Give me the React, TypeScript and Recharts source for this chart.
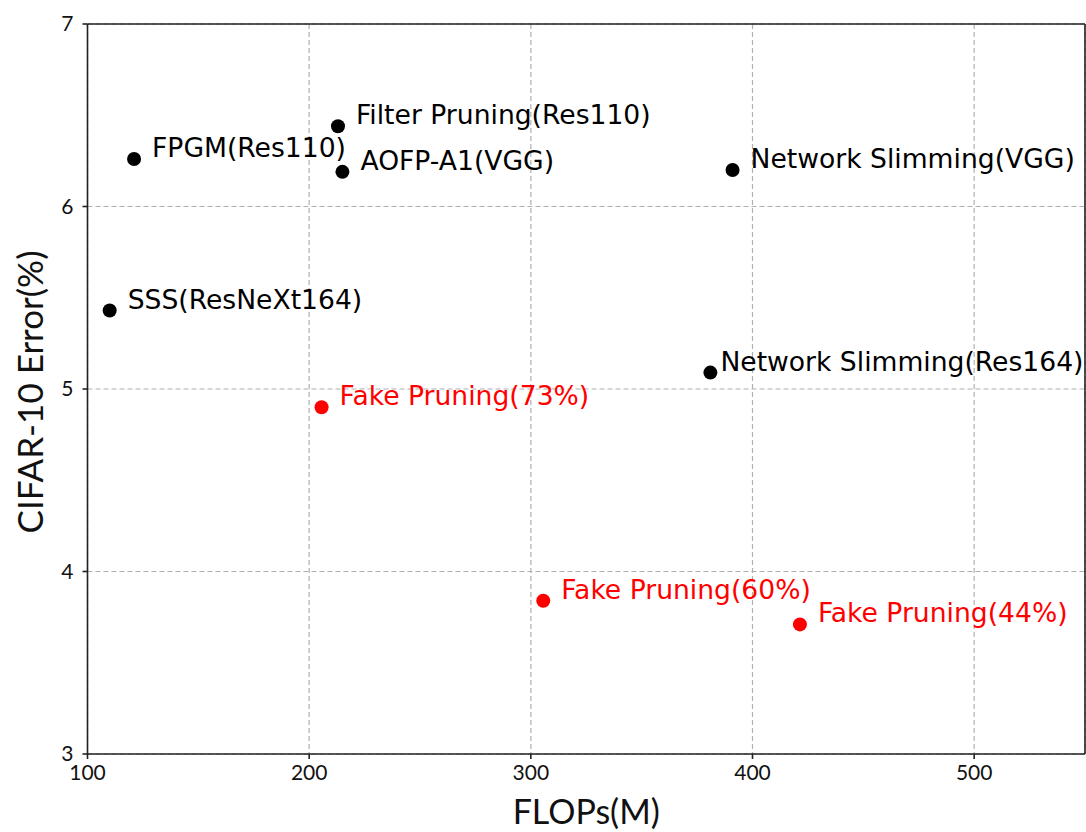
import React from 'react';
import {
  CartesianGrid,
  ReferenceLine,
  Scatter,
  ScatterChart,
  XAxis,
  YAxis,
} from 'recharts';

// published pruning methods (black)
const baselineNames = [
  'FPGM(Res110)',
  'Filter Pruning(Res110)',
  'AOFP-A1(VGG)',
  'Network Slimming(VGG)',
  'SSS(ResNeXt164)',
  'Network Slimming(Res164)',
];
const baselineFlops = [121, 213, 215, 391, 110, 381];
const baselineError = [6.26, 6.44, 6.19, 6.2, 5.43, 5.09];

// fake pruning results (red)
const fakeNames = ['Fake Pruning(73%)', 'Fake Pruning(60%)', 'Fake Pruning(44%)'];
const fakeFlops = [205.6, 305.6, 421.4];
const fakeError = [4.9, 3.84, 3.71];

const xTicks = [100, 200, 300, 400, 500];
const yTicks = [3, 4, 5, 6, 7];

const baseline = baselineNames.map((name, i) => ({
  name,
  flops: baselineFlops[i],
  err: baselineError[i],
}));
const fake = fakeNames.map((name, i) => ({
  name,
  flops: fakeFlops[i],
  err: fakeError[i],
}));

// this one label sits closer to its dot in the original
const labelDx: Record<string, number> = { 'Network Slimming(Res164)': 10 };

const tickFont = { fontFamily: 'Lato', fontSize: 21, fill: '#111' };

const dotWithLabel = (color: string) => (props: any) => {
  const { cx, cy, payload } = props;
  const dx = labelDx[payload.name] ?? 18;
  return (
    <g>
      <circle cx={cx} cy={cy} r={7} fill={color} />
      <text
        x={cx + dx}
        y={cy - 2}
        fill={color}
        fontFamily="DejaVu Sans"
        fontSize={26.6}
      >
        {payload.name}
      </text>
    </g>
  );
};

export default function App() {
  return (
    <div style={{ position: 'absolute', left: 0, top: 0 }}>
      <ScatterChart
        width={1086}
        height={832}
        margin={{ top: 24, right: 1, bottom: 0, left: 0 }}
        style={{ overflow: 'visible' }}
      >
        <CartesianGrid stroke="#b0b0b0" strokeDasharray="5 3" strokeWidth={1.2} />
        <XAxis
          type="number"
          dataKey="flops"
          domain={[100, 550]}
          ticks={xTicks}
          allowDataOverflow
          height={78}
          stroke="#222"
          strokeWidth={1.6}
          tickSize={5}
          tickMargin={6}
          tick={tickFont}
          label={{
            content: ({ viewBox }: any) => (
              <text
                x={viewBox.x + viewBox.width / 2}
                y={viewBox.y + 70}
                textAnchor="middle"
                fontFamily="Lato"
                fontSize={34}
                fill="#111"
              >
                FLOPs(M)
              </text>
            ),
          }}
        />
        <YAxis
          type="number"
          dataKey="err"
          domain={[3, 7]}
          ticks={yTicks}
          allowDataOverflow
          width={87.5}
          stroke="#222"
          strokeWidth={1.6}
          tickSize={5}
          tickMargin={9}
          tick={tickFont}
          label={{
            content: ({ viewBox }: any) => {
              const cy = viewBox.y + viewBox.height / 2 + 3;
              return (
                <text
                  x={43}
                  y={cy}
                  transform={`rotate(-90 43 ${cy})`}
                  textAnchor="middle"
                  fontFamily="Lato"
                  fontSize={35}
                  fill="#111"
                >
                  CIFAR-10 Error(%)
                </text>
              );
            },
          }}
        />
        <ReferenceLine x={550} stroke="#222" strokeWidth={1.6} />
        <ReferenceLine y={7} stroke="#222" strokeWidth={1.6} />
        <Scatter
          data={baseline}
          shape={dotWithLabel('#000000')}
          isAnimationActive={false}
        />
        <Scatter
          data={fake}
          shape={dotWithLabel('#ff0000')}
          isAnimationActive={false}
        />
      </ScatterChart>
    </div>
  );
}
